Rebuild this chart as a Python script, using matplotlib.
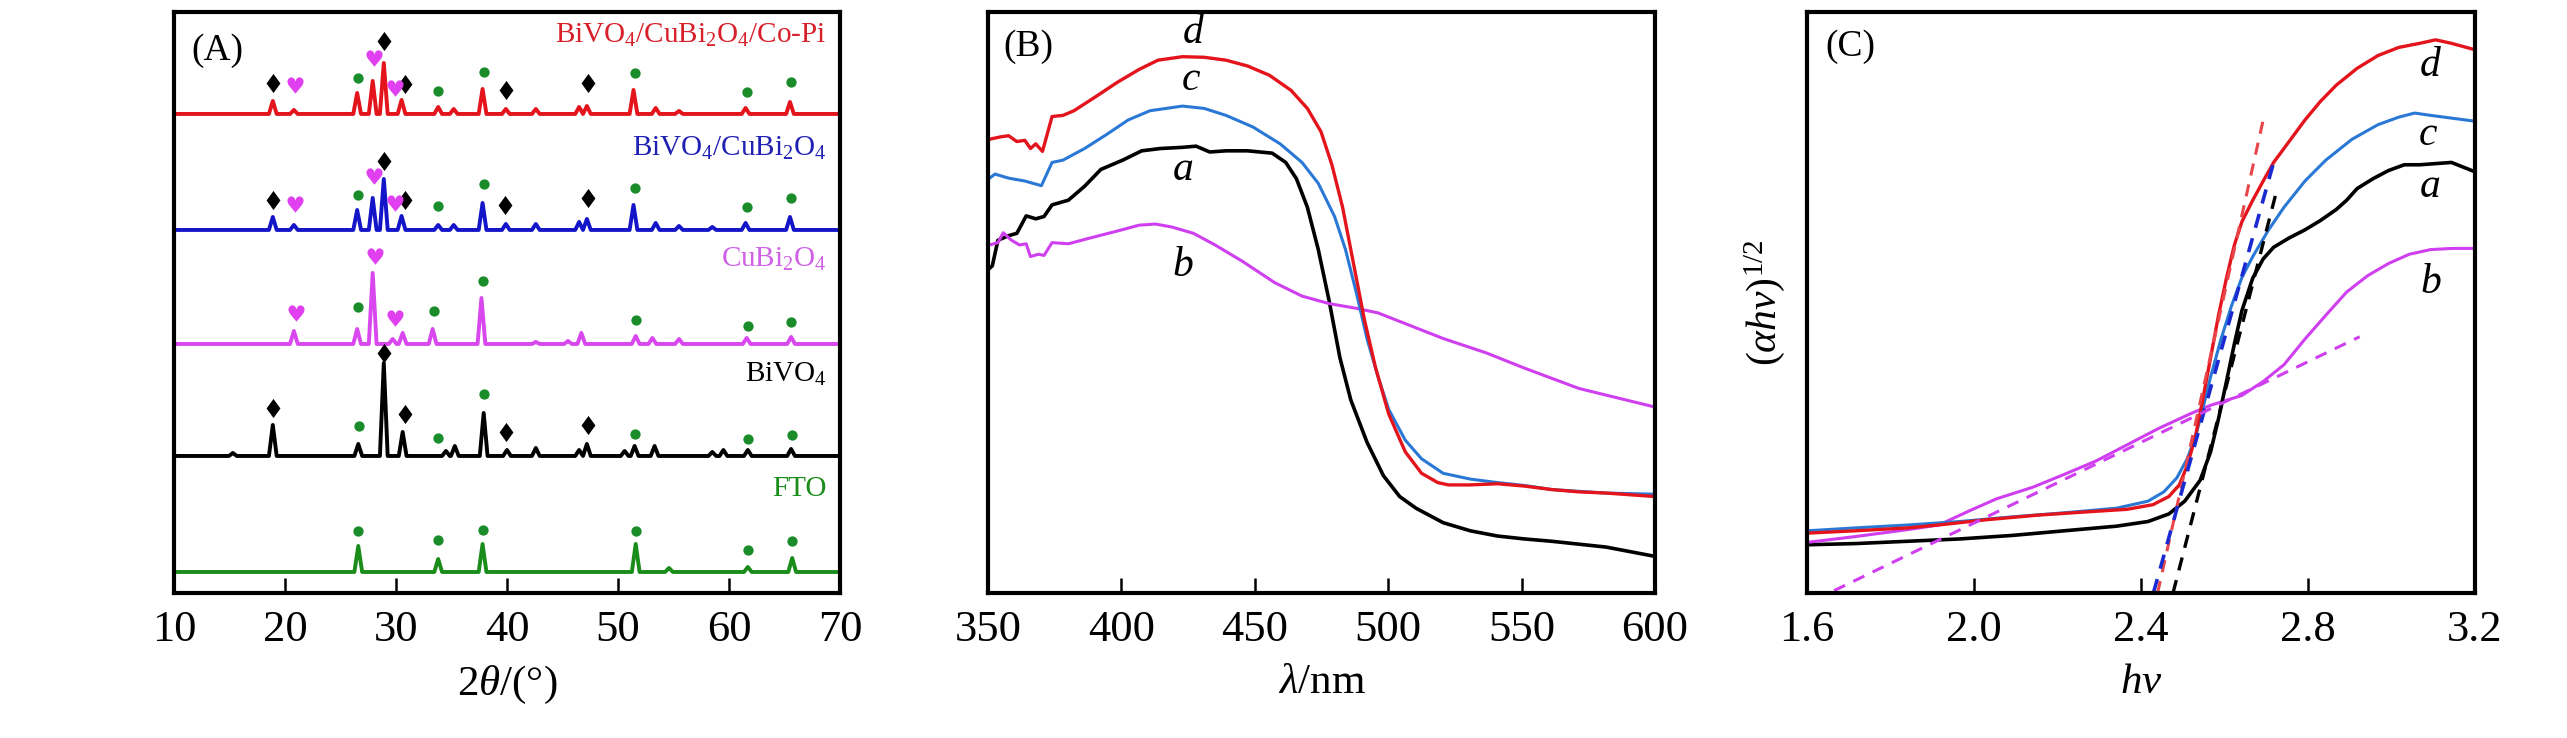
import numpy as np
import matplotlib.pyplot as plt
from matplotlib.path import Path
from matplotlib.textpath import TextPath
from matplotlib.font_manager import FontProperties

plt.rcParams['font.family'] = ['Liberation Serif', 'DejaVu Sans']
plt.rcParams['mathtext.fontset'] = 'custom'
plt.rcParams['mathtext.rm'] = 'Liberation Serif'
plt.rcParams['mathtext.it'] = 'Liberation Serif:italic'
plt.rcParams['mathtext.bf'] = 'Liberation Serif:bold'

# ---------------- (A) XRD ----------------
xrd_names = ['BiVO$_4$/CuBi$_2$O$_4$/Co-Pi', 'BiVO$_4$/CuBi$_2$O$_4$',
             'CuBi$_2$O$_4$', 'BiVO$_4$', 'FTO']
xrd_colors = ['#e3141c', '#1414c8', '#d848ee', '#000000', '#1a8c1a']
xrd_text_colors = ['#d8202a', '#2020b4', '#d060e6', '#000000', '#1a8c1a']
xrd_offsets = [479, 363, 249, 137, 21]
xrd_label_y = [558, 445, 334, 219, 104]

copi_pos = [18.9, 20.8, 26.5, 27.9, 28.9, 30.5, 33.8, 35.2, 37.8, 39.9, 42.6,
            46.5, 47.2, 51.4, 53.4, 55.5, 61.5, 65.5]
copi_int = [13, 4, 21, 33, 51, 14, 7, 5, 25, 5, 5, 7, 8, 24, 6, 3, 6, 12]
het_pos = [18.9, 20.8, 26.5, 27.9, 28.9, 30.5, 33.8, 35.2, 37.8, 39.9, 42.6,
           46.5, 47.2, 51.4, 53.4, 55.5, 58.5, 61.5, 65.5]
het_int = [13, 5, 20, 32, 51, 14, 5, 5, 27, 6, 6, 8, 11, 25, 7, 4, 3, 7, 13]
cubi_pos = [20.8, 26.5, 27.9, 29.7, 30.6, 33.3, 37.7, 42.6, 45.5, 46.7, 51.6,
            53.1, 55.5, 61.6, 65.6]
cubi_int = [13, 15, 71, 5, 11, 15, 46, 2, 3, 11, 8, 6, 5, 6, 7]
bvo_pos = [15.3, 18.9, 26.6, 28.9, 30.6, 34.5, 35.3, 37.9, 40.0, 42.6, 46.5,
           47.2, 50.6, 51.5, 53.3, 58.5, 59.5, 61.7, 65.6]
bvo_int = [3, 31, 12, 93, 24, 5, 10, 43, 6, 8, 6, 12, 5, 10, 10, 4, 6, 6, 7]
fto_pos = [26.6, 33.8, 37.8, 51.6, 54.6, 61.7, 65.7]
fto_int = [26, 13, 28, 28, 4, 5, 14]

# phase markers: (position, height above own baseline)
copi_dia_pos = [18.9, 28.9, 30.8, 39.9, 47.3]
copi_dia_h = [31, 73, 30, 24, 31]
het_dia_pos = [18.9, 28.9, 30.8, 39.8, 47.3]
het_dia_h = [30, 69, 30, 25, 32]
bvo_dia_pos = [18.9, 28.9, 30.8, 39.9, 47.3]
bvo_dia_h = [48, 103, 42, 24, 31]

copi_heart_pos = [20.8, 27.9, 29.8]
copi_heart_h = [29, 56, 26]
het_heart_pos = [20.8, 27.9, 29.8]
het_heart_h = [26, 54, 27]
cubi_heart_pos = [20.9, 28.0, 29.8]
cubi_heart_h = [31, 88, 26]

copi_dot_pos = [26.6, 33.8, 37.9, 51.5, 61.6, 65.6]
copi_dot_h = [36, 23, 42, 41, 22, 32]
het_dot_pos = [26.6, 33.8, 37.9, 51.5, 61.6, 65.6]
het_dot_h = [35, 24, 46, 42, 23, 32]
cubi_dot_pos = [26.6, 33.4, 37.8, 51.6, 61.7, 65.6]
cubi_dot_h = [37, 33, 63, 24, 18, 22]
bvo_dot_pos = [26.7, 33.8, 37.9, 51.5, 61.7, 65.7]
bvo_dot_h = [30, 18, 62, 22, 17, 21]
fto_dot_pos = [26.6, 33.8, 37.8, 51.6, 61.7, 65.7]
fto_dot_h = [41, 32, 42, 41, 22, 31]

# ---------------- (B) UV-vis ----------------
wl_d = [350.6, 354.7, 357.7, 360.8, 363.8, 365.9, 367.9, 370.4, 374.0, 378.1,
        382.2, 390.3, 398.5, 406.6, 413.7, 422.9, 431.0, 439.2, 447.3, 455.5,
        463.6, 469.7, 474.8, 478.9, 482.9, 487.0, 491.1, 495.2, 500.2, 506.4,
        512.5, 518.6, 522.6, 530.8, 541.0, 551.1, 561.3, 571.5, 581.7, 600.0]
abs_d = [0.781, 0.785, 0.787, 0.777, 0.779, 0.765, 0.773, 0.760, 0.820, 0.822,
         0.830, 0.854, 0.879, 0.901, 0.917, 0.923, 0.922, 0.917, 0.907, 0.891,
         0.865, 0.834, 0.794, 0.737, 0.664, 0.567, 0.470, 0.389, 0.308, 0.243,
         0.206, 0.190, 0.186, 0.186, 0.188, 0.184, 0.178, 0.174, 0.172, 0.166]
wl_c = [350.6, 352.6, 357.7, 363.8, 370.0, 374.0, 378.1, 386.2, 394.4, 402.5,
        410.7, 422.9, 431.0, 439.2, 449.3, 459.5, 467.7, 473.8, 479.9, 484.0,
        488.0, 492.1, 496.2, 500.2, 506.4, 512.5, 520.6, 530.8, 541.0, 551.1,
        561.3, 581.7, 600.0]
abs_c = [0.714, 0.721, 0.714, 0.709, 0.701, 0.741, 0.745, 0.765, 0.789, 0.814,
         0.830, 0.838, 0.834, 0.822, 0.802, 0.773, 0.741, 0.705, 0.648, 0.591,
         0.518, 0.437, 0.372, 0.316, 0.263, 0.231, 0.206, 0.196, 0.190, 0.185,
         0.178, 0.172, 0.170]
wl_a = [350.6, 351.6, 353.7, 357.7, 360.8, 364.3, 367.9, 371.0, 374.0, 380.1,
        386.2, 392.3, 400.5, 407.6, 414.7, 422.9, 428.0, 433.1, 439.2, 447.3,
        456.5, 461.6, 465.6, 469.7, 473.8, 477.9, 481.9, 486.0, 492.1, 498.2,
        504.3, 510.4, 520.6, 530.8, 541.0, 551.1, 561.3, 581.7, 600.0]
abs_a = [0.559, 0.563, 0.607, 0.615, 0.619, 0.649, 0.644, 0.648, 0.668, 0.676,
         0.700, 0.729, 0.745, 0.761, 0.765, 0.767, 0.769, 0.759, 0.761, 0.761,
         0.757, 0.741, 0.713, 0.664, 0.591, 0.502, 0.405, 0.332, 0.259, 0.202,
         0.166, 0.146, 0.121, 0.107, 0.098, 0.093, 0.089, 0.079, 0.063]
wl_b = [350.6, 353.7, 355.7, 358.8, 361.8, 364.3, 365.9, 368.9, 371.0, 374.0,
        380.1, 388.3, 398.5, 406.6, 412.7, 418.8, 427.0, 435.1, 445.3, 457.5,
        467.7, 477.9, 488.0, 496.2, 508.4, 520.6, 536.9, 551.1, 571.5, 600.0]
abs_b = [0.599, 0.603, 0.620, 0.607, 0.599, 0.601, 0.579, 0.583, 0.581, 0.603,
         0.601, 0.611, 0.623, 0.633, 0.635, 0.630, 0.619, 0.599, 0.571, 0.534,
         0.511, 0.498, 0.490, 0.482, 0.460, 0.438, 0.413, 0.387, 0.352, 0.320]

# ---------------- (C) Tauc ----------------
hv_d = [1.600, 1.715, 1.841, 1.928, 2.029, 2.154, 2.279, 2.367, 2.429, 2.467,
        2.492, 2.511, 2.530, 2.548, 2.567, 2.586, 2.605, 2.624, 2.642, 2.668,
        2.693, 2.718, 2.755, 2.793, 2.830, 2.868, 2.918, 2.968, 3.018, 3.068,
        3.106, 3.144, 3.200]
tauc_d = [0.103, 0.107, 0.112, 0.118, 0.126, 0.134, 0.140, 0.144, 0.152, 0.166,
          0.186, 0.219, 0.267, 0.332, 0.405, 0.478, 0.542, 0.599, 0.639, 0.676,
          0.709, 0.741, 0.777, 0.814, 0.846, 0.874, 0.903, 0.925, 0.939, 0.946,
          0.952, 0.946, 0.935]
hv_c = [1.600, 1.715, 1.841, 1.966, 2.091, 2.216, 2.342, 2.417, 2.455, 2.486,
        2.511, 2.530, 2.548, 2.567, 2.592, 2.617, 2.642, 2.668, 2.705, 2.743,
        2.793, 2.843, 2.906, 2.968, 3.018, 3.056, 3.094, 3.200]
tauc_c = [0.107, 0.112, 0.117, 0.123, 0.131, 0.138, 0.146, 0.158, 0.174, 0.198,
          0.231, 0.267, 0.316, 0.372, 0.437, 0.494, 0.543, 0.579, 0.624, 0.664,
          0.709, 0.745, 0.781, 0.806, 0.819, 0.826, 0.822, 0.812]
hv_a = [1.600, 1.715, 1.841, 1.966, 2.091, 2.216, 2.342, 2.417, 2.467, 2.505,
        2.542, 2.567, 2.586, 2.605, 2.624, 2.642, 2.668, 2.693, 2.718, 2.755,
        2.793, 2.830, 2.868, 2.893, 2.918, 2.956, 2.993, 3.031, 3.068, 3.106,
        3.144, 3.200]
tauc_a = [0.083, 0.085, 0.089, 0.093, 0.099, 0.107, 0.115, 0.123, 0.136, 0.158,
          0.194, 0.243, 0.300, 0.364, 0.429, 0.486, 0.542, 0.575, 0.595, 0.611,
          0.625, 0.641, 0.660, 0.676, 0.696, 0.713, 0.727, 0.737, 0.737, 0.739,
          0.741, 0.725]
hv_b = [1.600, 1.715, 1.841, 1.916, 1.991, 2.054, 2.141, 2.216, 2.292, 2.367,
        2.442, 2.517, 2.567, 2.642, 2.693, 2.743, 2.793, 2.843, 2.893, 2.943,
        2.993, 3.043, 3.094, 3.144, 3.200]
tauc_b = [0.087, 0.097, 0.109, 0.117, 0.142, 0.162, 0.182, 0.204, 0.227, 0.255,
          0.283, 0.308, 0.323, 0.340, 0.364, 0.393, 0.437, 0.478, 0.518, 0.546,
          0.567, 0.583, 0.591, 0.593, 0.593]
# tangent (extrapolation) lines: [x0, x1], [y0, y1]
fit_d_x, fit_d_y = [2.440, 2.693], [0.0, 0.814]
fit_c_x, fit_c_y = [2.430, 2.718], [0.0, 0.741]
fit_a_x, fit_a_y = [2.477, 2.728], [0.0, 0.700]
fit_b_x, fit_b_y = [1.665, 2.924], [0.004, 0.441]

red = '#e3141c'
lblue = '#2a78d6'
magenta = '#cf3ff0'
green_mk = '#1a8c2a'
heart_col = '#e040f0'


def stick_profile(pos, inten, base, half=0.35):
    xs, ys = [10.0], [base]
    for p, h in sorted(zip(pos, inten)):
        xs += [p - half, p, p + half]
        ys += [base, base + h, base]
    xs.append(70.0)
    ys.append(base)
    return xs, ys


# heart marker built from the DejaVu glyph
tp = TextPath((0, 0), '\u2665', prop=FontProperties(family='DejaVu Sans'), size=1)
vv = tp.vertices.copy()
vv -= (vv.min(axis=0) + vv.max(axis=0)) / 2
heart = Path(vv, tp.codes)
diamond = Path([(0, -0.62), (0.45, 0), (0, 0.62), (-0.45, 0), (0, -0.62)],
               [Path.MOVETO, Path.LINETO, Path.LINETO, Path.LINETO, Path.CLOSEPOLY])

fig = plt.figure(figsize=(25.67, 7.38), dpi=100)
axA = fig.add_axes([0.0678, 0.1965, 0.2594, 0.7873])
axB = fig.add_axes([0.3849, 0.1965, 0.2598, 0.7873])
axC = fig.add_axes([0.7039, 0.1965, 0.2602, 0.7873])

for ax in (axA, axB, axC):
    for s in ax.spines.values():
        s.set_linewidth(3)
    ax.tick_params(axis='x', direction='in', length=11, width=1.8,
                   labelsize=32, pad=12)
    ax.set_yticks([])

# ---- A ----
pos_list = [copi_pos, het_pos, cubi_pos, bvo_pos, fto_pos]
int_list = [copi_int, het_int, cubi_int, bvo_int, fto_int]
for i in range(5):
    xs, ys = stick_profile(pos_list[i], int_list[i], xrd_offsets[i])
    axA.plot(xs, ys, color=xrd_colors[i], lw=2.8, solid_joinstyle='round')
    axA.text(68.8, xrd_label_y[i], xrd_names[i], color=xrd_text_colors[i],
             fontsize=21, ha='right', va='center')

dia_sets = [(copi_dia_pos, copi_dia_h, 0), (het_dia_pos, het_dia_h, 1),
            (bvo_dia_pos, bvo_dia_h, 3)]
for p, h, i in dia_sets:
    axA.scatter(p, np.array(h) + xrd_offsets[i], marker=diamond, s=190,
                color='black', zorder=3, linewidths=0)
heart_sets = [(copi_heart_pos, copi_heart_h, 0), (het_heart_pos, het_heart_h, 1),
              (cubi_heart_pos, cubi_heart_h, 2)]
for p, h, i in heart_sets:
    axA.scatter(p, np.array(h) + xrd_offsets[i], marker=heart, s=170,
                color=heart_col, zorder=3, linewidths=0)
dot_sets = [(copi_dot_pos, copi_dot_h, 0), (het_dot_pos, het_dot_h, 1),
            (cubi_dot_pos, cubi_dot_h, 2), (bvo_dot_pos, bvo_dot_h, 3),
            (fto_dot_pos, fto_dot_h, 4)]
for p, h, i in dot_sets:
    axA.scatter(p, np.array(h) + xrd_offsets[i], marker='o', s=55,
                color=green_mk, zorder=3, linewidths=0)

axA.set_xlim(10, 70)
axA.set_ylim(0, 581)
axA.set_xticks([10, 20, 30, 40, 50, 60, 70])
axA.set_xlabel(r'2$\theta$/(°)', fontsize=31, labelpad=10)
axA.text(0.026, 0.933, '(A)', transform=axA.transAxes, fontsize=27,
         va='center', ha='left')

# ---- B ----
axB.plot(wl_a, abs_a, color='black', lw=2.6)
axB.plot(wl_b, abs_b, color=magenta, lw=2.2)
axB.plot(wl_c, abs_c, color=lblue, lw=2.2)
axB.plot(wl_d, abs_d, color=red, lw=2.4)
for t, x, y in [('d', 427, 0.964), ('c', 426, 0.883), ('a', 423, 0.729),
                ('b', 423, 0.563)]:
    axB.text(x, y, t, fontsize=30, style='italic', ha='center', va='center')
axB.set_xlim(350, 600)
axB.set_ylim(0, 1)
axB.set_xticks([350, 400, 450, 500, 550, 600])
axB.set_xlabel(r'$\lambda$/nm', fontsize=31, labelpad=10)
axB.text(0.023, 0.94, '(B)', transform=axB.transAxes, fontsize=27,
         va='center', ha='left')

# ---- C ----
axC.plot(hv_a, tauc_a, color='black', lw=2.6)
axC.plot(hv_b, tauc_b, color=magenta, lw=2.2)
axC.plot(hv_c, tauc_c, color=lblue, lw=2.2)
axC.plot(hv_d, tauc_d, color=red, lw=2.4)
axC.plot(fit_d_x, fit_d_y, color='#e8464a', lw=2.2, ls=(0, (4, 3)))
axC.plot(fit_c_x, fit_c_y, color='#1a2ad0', lw=2.6, ls=(0, (4, 3)))
axC.plot(fit_a_x, fit_a_y, color='black', lw=2.4, ls=(0, (4, 3)))
axC.plot(fit_b_x, fit_b_y, color=magenta, lw=2.2, ls=(0, (4, 3)))
for t, x, y in [('d', 3.094, 0.907), ('c', 3.087, 0.789), ('a', 3.094, 0.700),
                ('b', 3.094, 0.534)]:
    axC.text(x, y, t, fontsize=30, style='italic', ha='center', va='center')
axC.set_xlim(1.6, 3.2)
axC.set_ylim(0, 1)
axC.set_xticks([1.6, 2.0, 2.4, 2.8, 3.2])
axC.set_xticklabels(['1.6', '2.0', '2.4', '2.8', '3.2'])
axC.set_xlabel(r'$h\nu$', fontsize=31, labelpad=10)
axC.set_ylabel(r'$(\alpha h\nu)^{1/2}$', fontsize=30, labelpad=14)
axC.text(0.028, 0.94, '(C)', transform=axC.transAxes, fontsize=27,
         va='center', ha='left')

fig.savefig('out.png', dpi=100)
